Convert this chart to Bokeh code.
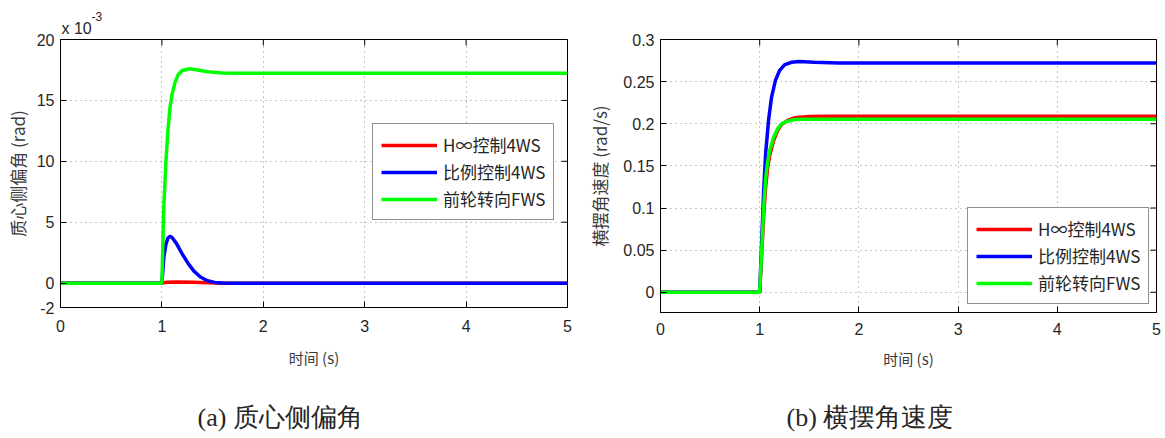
import math
from bokeh.plotting import figure
from bokeh.models import FixedTicker, Legend, LegendItem, Title, Range1d
from bokeh.layouts import row
from bokeh.embed import file_html
from bokeh.resources import INLINE

# ---------------- data ----------------
# (a) sideslip angle, units of 1e-3 rad
t_a_red = [0, 1.0, 1.05, 1.15, 1.3, 1.45, 1.6, 5.0]
beta_hinf = [0, 0, 0.08, 0.1, 0.08, 0.04, 0.0, 0.0]
t_a_blue = [0, 1.0, 1.02, 1.04, 1.06, 1.08, 1.10, 1.14, 1.20, 1.26, 1.32, 1.38, 1.45, 1.52, 1.60, 1.70, 5.0]
beta_prop = [0, 0, 2.2, 3.2, 3.7, 3.85, 3.75, 3.3, 2.4, 1.6, 0.95, 0.5, 0.2, 0.06, 0.01, 0.0, 0.0]
t_a_green = [0, 1.0, 1.01, 1.02, 1.04, 1.06, 1.08, 1.10, 1.13, 1.16, 1.20, 1.27, 1.35, 1.45, 1.60, 1.80, 5.0]
beta_fws = [0, 0, 3.5, 6.5, 10.0, 12.6, 14.4, 15.5, 16.5, 17.1, 17.45, 17.6, 17.5, 17.35, 17.25, 17.22, 17.22]

# (b) yaw rate, rad/s
t_b_red = [0, 1.0, 1.02, 1.04, 1.06, 1.08, 1.10, 1.14, 1.18, 1.22, 1.28, 1.35, 1.5, 1.7, 5.0]
r_hinf = [0, 0, 0.045, 0.09, 0.125, 0.147, 0.162, 0.18, 0.192, 0.199, 0.204, 0.207, 0.2085, 0.209, 0.209]
t_b_blue = [0, 1.0, 1.02, 1.04, 1.06, 1.09, 1.12, 1.16, 1.20, 1.25, 1.32, 1.40, 1.55, 1.8, 5.0]
r_prop = [0, 0, 0.06, 0.12, 0.165, 0.205, 0.232, 0.252, 0.263, 0.27, 0.273, 0.274, 0.273, 0.272, 0.272]
t_b_green = [0, 1.0, 1.02, 1.04, 1.06, 1.08, 1.10, 1.14, 1.18, 1.22, 1.28, 1.35, 1.5, 5.0]
r_fws = [0, 0, 0.05, 0.10, 0.135, 0.155, 0.168, 0.184, 0.194, 0.20, 0.203, 0.205, 0.2055, 0.2055]

legend_labels = ["H\u221e控制4WS", "比例控制4WS", "前轮转向FWS"]
x_ticks = [0, 1, 2, 3, 4, 5]
y_ticks_a = [-2, 0, 5, 10, 15, 20]
y_tick_labels_a = ["-2", "0", "5", "10", "15", "20"]
y_ticks_b = [0, 0.05, 0.1, 0.15, 0.2, 0.25, 0.3]
y_tick_labels_b = ["0", "0.05", "0.1", "0.15", "0.2", "0.25", "0.3"]
x_range = (0, 5)
y_range_a = (-2, 20)
y_range_b = (-0.024, 0.3)

TICK_FONT = "Liberation Sans"
CJK = "Noto Sans CJK SC"


def style(p, yt, ylabels, xlabel, ylabel, ylab_standoff, xtick_standoff, xlab_standoff):
    p.background_fill_color = "white"
    p.border_fill_color = "white"
    p.outline_line_color = "black"
    p.outline_line_width = 1
    p.xaxis.ticker = FixedTicker(ticks=x_ticks)
    p.yaxis.ticker = FixedTicker(ticks=yt)
    p.xaxis.major_label_overrides = {v: str(v) for v in x_ticks}
    p.yaxis.major_label_overrides = dict(zip(yt, ylabels))
    p.xaxis.axis_label = xlabel
    p.yaxis.axis_label = ylabel
    for ax in p.xaxis + p.yaxis:
        ax.major_tick_in = 6
        ax.major_tick_out = 0
        ax.minor_tick_line_color = None
        ax.axis_line_color = "black"
        ax.major_label_text_font = TICK_FONT
        ax.major_label_text_font_size = "16px"
        ax.major_label_text_color = "#262626"
        ax.axis_label_text_font = CJK
        ax.axis_label_text_font_style = "normal"
        ax.axis_label_text_color = "#3a3a3a"
    p.xaxis.major_label_standoff = xtick_standoff
    p.xaxis.axis_label_standoff = xlab_standoff
    p.xaxis.axis_label_text_font_size = "15px"
    p.yaxis.major_label_standoff = 6
    p.yaxis.axis_label_standoff = ylab_standoff
    p.yaxis.axis_label_text_font_size = "17px"
    p.grid.grid_line_color = "#8a8a8a"
    p.grid.grid_line_dash = "1 4"
    p.grid.grid_line_width = 1
    # mirrored inward ticks on the top and right frame edges
    y1 = p.y_range.end
    x1 = p.x_range.end
    p.scatter(x=x_ticks, y=[y1] * len(x_ticks), marker="dash", size=12, angle=math.pi / 2,
              line_color="black", line_width=1)
    p.scatter(x=[x1] * len(yt), y=yt, marker="dash", size=12, line_color="black", line_width=1)


def make_legend(p, rends, loc):
    items = [LegendItem(label=l, renderers=[r]) for l, r in zip(legend_labels, rends)]
    lg = Legend(items=items, location=loc, background_fill_color="white", background_fill_alpha=1,
                border_line_color="#222222", border_line_width=1, label_text_font=CJK,
                label_text_font_size="17px", label_text_color="#262626", glyph_width=56, glyph_height=20,
                label_height=20, spacing=2, padding=8, margin=0, label_standoff=6)
    p.add_layout(lg, "center")


def caption(p, text, offset, standoff):
    p.add_layout(Title(text=text, align="left", offset=offset, text_font="Liberation Serif",
                       text_font_size="26px", text_font_style="normal", text_color="#262626",
                       standoff=standoff), "below")


LW = 3.5
# ---------------- panel (a) ----------------
pa = figure(width=582, height=438, output_backend="svg", toolbar_location=None,
            x_range=Range1d(*x_range), y_range=Range1d(*y_range_a),
            frame_width=507, frame_height=268,
            min_border_left=60, min_border_top=39, min_border_right=15, min_border_bottom=6)
style(pa, y_ticks_a, y_tick_labels_a, "时间 (s)", "质心侧偏角 (rad)", 4, 12, 12)
ra1 = pa.line(t_a_red, beta_hinf, color="#ff0000", line_width=LW)
ra2 = pa.line(t_a_blue, beta_prop, color="#0000ff", line_width=LW)
ra3 = pa.line(t_a_green, beta_fws, color="#00ff00", line_width=LW)
make_legend(pa, [ra1, ra2, ra3], (312, 87))
# exponent note "x 10^-3": the default title (outermost) carries the superscript
pa.title.text = "-3"
pa.title.align = "left"
pa.title.offset = 31
pa.title.standoff = -12
pa.title.text_font = TICK_FONT
pa.title.text_font_size = "12px"
pa.title.text_font_style = "normal"
pa.title.text_color = "#262626"
pa.add_layout(Title(text="x 10", align="left", offset=1, standoff=6, text_font=TICK_FONT,
                    text_font_size="16px", text_font_style="normal", text_color="#262626"), "above")
caption(pa, "(a) 质心侧偏角", 137, 61)

# ---------------- panel (b) ----------------
pb = figure(width=583, height=438, output_backend="svg", toolbar_location=None,
            x_range=Range1d(*x_range), y_range=Range1d(*y_range_b),
            frame_width=496, frame_height=273,
            min_border_left=78, min_border_top=36, min_border_right=9, min_border_bottom=6)
style(pb, y_ticks_b, y_tick_labels_b, "时间 (s)", "横摆角速度 (rad/s)", 8, 10, 10)
rb1 = pb.line(t_b_red, r_hinf, color="#ff0000", line_width=LW)
rb2 = pb.line(t_b_blue, r_prop, color="#0000ff", line_width=LW)
rb3 = pb.line(t_b_green, r_fws, color="#00ff00", line_width=LW)
make_legend(pb, [rb1, rb2, rb3], (307, 8))
caption(pb, "(b) 横摆角速度", 126, 59)

layout = row(pa, pb, spacing=0)
open("out.html", "w").write(file_html(layout, INLINE))
